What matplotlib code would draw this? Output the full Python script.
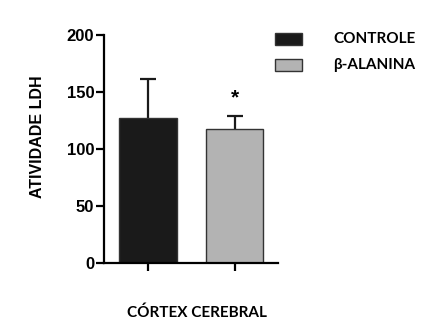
import matplotlib
matplotlib.use('Agg')
import matplotlib.pyplot as plt
from matplotlib.patches import Rectangle

# data
groups = ['CONTROLE', 'β-ALANINA']
values = [127.5, 117.5]
errors = [33.5, 11.5]
colors = ['#1a1a1a', '#b3b3b3']
yticks = [0, 50, 100, 150, 200]

fig = plt.figure(figsize=(4.21, 3.22), dpi=100)
ax = fig.add_axes([104/421, 1-263/322, (278-104)/421, (263-35)/322])

x = [0, 1]
for i in range(len(groups)):
    ax.bar(x[i], values[i], width=0.67, color=colors[i], edgecolor='#333333', linewidth=1.0, zorder=2)
    eb = ax.errorbar(x[i], values[i], yerr=[[0], [errors[i]]], fmt='none', ecolor='#1a1a1a',
                     elinewidth=1.6, capsize=5.5, capthick=1.6, zorder=1)
    # only the upper cap is shown
    eb[1][0].set_visible(False)

ax.annotate('*', (x[1], values[1] + errors[1]), xytext=(0, 13), textcoords='offset points',
            ha='center', va='center', fontsize=15, fontweight='bold', family='Liberation Sans')

ax.set_xlim(-0.509, 1.503)
ax.set_ylim(0, 200)
ax.set_yticks(yticks)
ax.set_xticks(x)
ax.set_xticklabels([])
for s in ['top', 'right']:
    ax.spines[s].set_visible(False)
for s in ['left', 'bottom']:
    ax.spines[s].set_linewidth(1.6)
ax.tick_params(axis='both', width=1.6, length=6, direction='out', pad=1)
for lbl in ax.get_yticklabels():
    lbl.set_family('Liberation Sans')
    lbl.set_fontweight('bold')
    lbl.set_fontsize(12)

fig.text(37/421, 1-137/322, 'ATIVIDADE LDH', rotation=90, ha='center', va='center',
         fontsize=11.5, fontweight='bold', family='Liberation Sans')
fig.text(197/421, 1-313/322, 'CÓRTEX CEREBRAL', ha='center', va='center', fontsize=11,
         fontweight='bold', family='Lato')

# legend boxes and labels
leg_y = [39, 65]
for i in range(len(groups)):
    fig.add_artist(Rectangle((275/421, 1-(leg_y[i]+6)/322), 27/421, 12/322,
                             transform=fig.transFigure, facecolor=colors[i], edgecolor='#333333', lw=1.0))
    fig.text(333/421, 1-leg_y[i]/322, groups[i], ha='left', va='center', fontsize=11,
             fontweight='bold', family='Lato')

fig.savefig('out.png', dpi=100)
